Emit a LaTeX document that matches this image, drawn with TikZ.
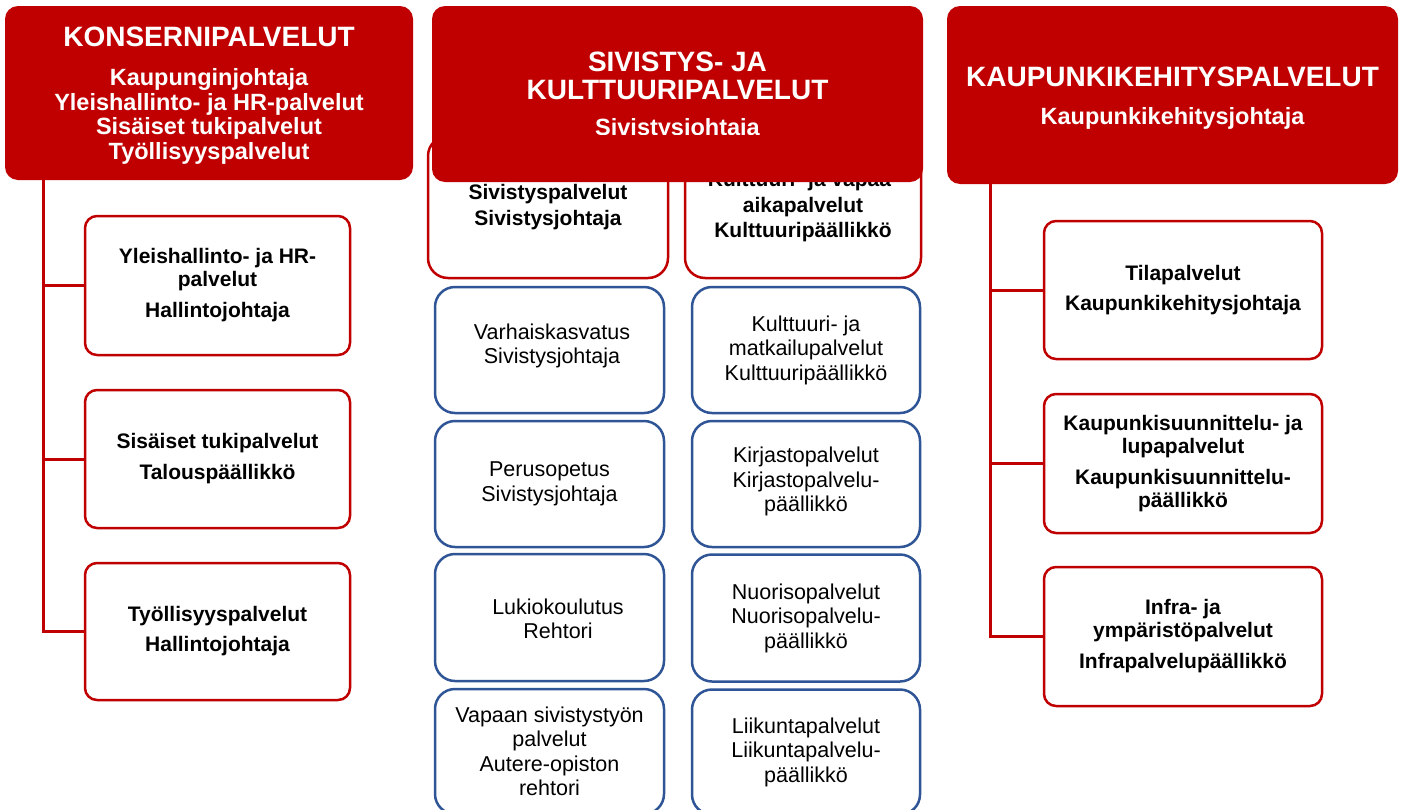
\documentclass[tikz,border=0pt]{standalone}
\usepackage{fontspec}
\setmainfont{Liberation Sans}
\definecolor{kred}{RGB}{192,0,0}
\definecolor{kblue}{RGB}{47,85,151}
\begin{document}
\begin{tikzpicture}[x=1pt,y=-1pt,
  hdr/.style={fill=kred, draw=none, rounded corners=13pt, inner sep=0pt},
  htitle/.style={inner sep=0pt, text=white, align=center, font=\fontsize{28}{28}\selectfont\bfseries},
  hsub/.style={inner sep=0pt, text=white, align=center, font=\fontsize{23.5}{24.9}\selectfont\bfseries},
  redbox/.style={draw=kred, line width=2.5pt, fill=white, rounded corners=12pt, inner sep=0pt,
    align=center, font=\fontsize{21}{23}\selectfont\bfseries},
  unitbox/.style={draw=kred, line width=2.5pt, fill=white, rounded corners=20pt, inner sep=0pt,
    align=center, font=\fontsize{21}{25.5}\selectfont\bfseries},
  bluebox/.style={draw=kblue, line width=2.5pt, fill=white, rounded corners=20pt, inner sep=0pt,
    align=center, font=\fontsize{21.5}{24.5}\selectfont},
  bluetext/.style={inner sep=0pt, align=center, font=\fontsize{21.5}{24.5}\selectfont},
  conn/.style={draw=kred, line width=3pt}
]
\useasboundingbox (0,0) rectangle (1402,809);
\fill[white] (0,0) rectangle (1402,809);
\clip (0,0) rectangle (1402,809);

% middle unit boxes (behind header)
\node[unitbox, minimum width=240pt, minimum height=142pt] (sp) at (548,207) {Sivistyspalvelut\\Sivistysjohtaja};
\node[unitbox, minimum width=236pt, minimum height=142pt] (kv) at (803,207) {Kulttuuri- ja vapaa-\\aikapalvelut\\Kulttuuripäällikkö};

% headers
\node[hdr, minimum width=408pt, minimum height=174pt] (kon) at (209,93) {};
\node[hsub] (kont) at (209,96) {{\fontsize{28}{30}\selectfont KONSERNIPALVELUT}\\[13.5pt]Kaupunginjohtaja\\Yleishallinto- ja HR-palvelut\\Sisäiset tukipalvelut\\Työllisyyspalvelut};
\node[hdr, minimum width=491pt, minimum height=176pt] (siv) at (677.5,94) {};
\node[htitle] (sivt) at (677.5,76) {SIVISTYS- JA\\KULTTUURIPALVELUT};
\begin{scope}
  \clip (432,105) rectangle (923,134.5);
  \node[hsub, anchor=base] (sivs) at (677.5,135.5) {Sivistysjohtaja};
\end{scope}
\node[hdr, minimum width=451pt, minimum height=178pt] (kk) at (1172.5,95) {};
\node[hsub] (kkt1) at (1172.5,98) {{\fontsize{28}{30}\selectfont KAUPUNKIKEHITYSPALVELUT}\\[13pt]Kaupunkikehitysjohtaja};

% left children
\node[redbox, minimum width=265pt, minimum height=139pt] (k1) at (217.5,285.5) {Yleishallinto- ja HR-\\palvelut\\[8pt]Hallintojohtaja};
\node[redbox, minimum width=265pt, minimum height=138pt] (k2) at (217.5,459) {Sisäiset tukipalvelut\\[8pt]Talouspäällikkö};
\node[redbox, minimum width=265pt, minimum height=137pt] (k3) at (217.5,631.5) {Työllisyyspalvelut\\[7pt]Hallintojohtaja};

% right children
\node[redbox, minimum width=278pt, minimum height=138pt] (r1) at (1183,290) {Tilapalvelut\\[7pt]Kaupunkikehitysjohtaja};
\node[redbox, minimum width=278pt, minimum height=139pt] (r2) at (1183,463.5) {Kaupunkisuunnittelu- ja\\lupapalvelut\\[8pt]Kaupunkisuunnittelu-\\päällikkö};
\node[redbox, minimum width=278pt, minimum height=139pt] (r3) at (1183,636.5) {Infra- ja\\ympäristöpalvelut\\[8pt]Infrapalvelupäällikkö};

% connectors
\coordinate (kt) at ([xshift=39pt]kon.south west);
\draw[conn] (kt) |- (k1.west);
\draw[conn] (kt) |- (k2.west);
\draw[conn] (kt) |- (k3.west);
\coordinate (kkt) at ([xshift=44pt]kk.south west);
\draw[conn] (kkt) |- (r1.west);
\draw[conn] (kkt) |- (r2.west);
\draw[conn] (kkt) |- (r3.west);

% blue boxes, left column
\node[bluebox, minimum width=229pt, minimum height=126pt] (b1) at (549.5,350) {};
\node[bluetext] (b1t) at (552,346) {Varhaiskasvatus\\Sivistysjohtaja};
\node[bluebox, minimum width=229pt, minimum height=126pt] (b2) at (549.5,484) {Perusopetus\\Sivistysjohtaja};
\node[bluebox, minimum width=229pt, minimum height=127pt] (b3) at (549.5,617.5) {};
\node[bluetext] (b3t) at (558,619) {Lukiokoulutus\\Rehtori};
\node[bluebox, minimum width=229pt, minimum height=125pt] (b4) at (549.5,751.5) {Vapaan sivistystyön\\palvelut\\Autere-opiston\\rehtori};

% blue boxes, right column
\node[bluebox, minimum width=228pt, minimum height=126pt] (c1) at (806,350) {Kulttuuri- ja\\matkailupalvelut\\Kulttuuripäällikkö};
\node[bluebox, minimum width=228pt, minimum height=126pt] (c2) at (806,484) {};
\node[bluetext] (c2t) at (806,481.5) {Kirjastopalvelut\\Kirjastopalvelu-\\päällikkö};
\node[bluebox, minimum width=228pt, minimum height=127pt] (c3) at (806,618) {Nuorisopalvelut\\Nuorisopalvelu-\\päällikkö};
\node[bluebox, minimum width=228pt, minimum height=125pt] (c4) at (806,752) {Liikuntapalvelut\\Liikuntapalvelu-\\päällikkö};
\end{tikzpicture}
\end{document}
